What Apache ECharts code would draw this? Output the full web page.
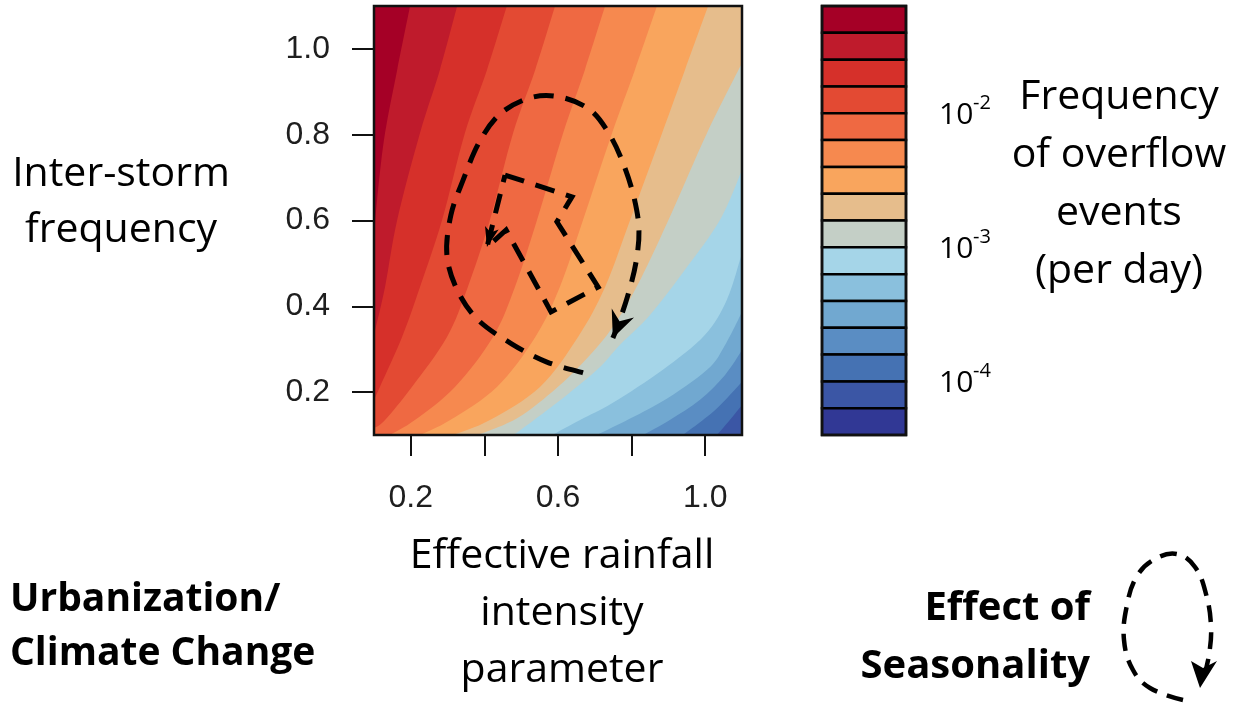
<!DOCTYPE html>
<html>
<head>
<meta charset="utf-8">
<script src="https://cdn.jsdelivr.net/npm/echarts@6.0.0/dist/echarts.min.js"></script>
<style>
html,body{margin:0;padding:0;background:#ffffff;}
#chart{width:1237px;height:715px;}
</style>
</head>
<body>
<div id="chart"></div>
<script>
// ---------- axes ----------
const X_MIN = 0.1, X_MAX = 1.1, Y_MIN = 0.1, Y_MAX = 1.1;
const xTickValues = [0.2, 0.4, 0.6, 0.8, 1.0];
const xLabelValues = [0.2, 0.6, 1.0];
const yTickValues = [0.2, 0.4, 0.6, 0.8, 1.0];

// ---------- colour bar: log10(frequency of overflow events per day) ----------
const cbLevels = [-1.2, -1.4, -1.6, -1.8, -2.0, -2.2, -2.4, -2.6, -2.8, -3.0, -3.2, -3.4, -3.6, -3.8, -4.0, -4.2, -4.4];
const cbTickValues = [-1.5, -2, -2.5, -3, -3.5, -4];
const cbLabelValues = [-2, -3, -4];
const bandColors = ['#a50026', '#bf1b2c', '#d6302a', '#e34a33', '#ef6942', '#f6894f', '#f9a55d', '#e6bd8c',
                    '#c4cfc6', '#a5d5e8', '#8ac0dd', '#71a8d0', '#5a8dc3', '#4572b3', '#3b56a5', '#313895'];

// ---------- contour lines (x = rainfall intensity, y = inter-storm frequency) ----------
const contourLevels = [-1.4, -1.6, -1.8, -2.0, -2.2, -2.4, -2.6, -2.8, -3.0, -3.2, -3.4, -3.6, -3.8, -4.0];
const line_m1_4 = [[0.198,1.1],[0.163,0.951],[0.130,0.804],[0.111,0.671],[0.1,0.566]];
const line_m1_6 = [[0.326,1.1],[0.279,0.951],[0.225,0.804],[0.163,0.601],[0.130,0.445],[0.1,0.333]];
const line_m1_8 = [[0.461,1.1],[0.407,0.951],[0.347,0.804],[0.285,0.601],[0.225,0.445],[0.176,0.328],[0.116,0.212],[0.1,0.182]];
const line_m2_0 = [[0.592,1.1],[0.538,0.951],[0.478,0.804],[0.415,0.601],[0.355,0.445],[0.298,0.328],[0.203,0.212],[0.130,0.135],[0.1,0.116]];
const line_m2_2 = [[0.728,1.1],[0.673,0.951],[0.614,0.804],[0.543,0.601],[0.483,0.445],[0.423,0.328],[0.320,0.212],[0.211,0.135],[0.143,0.1]];
const line_m2_4 = [[0.869,1.1],[0.809,0.951],[0.747,0.804],[0.668,0.601],[0.605,0.445],[0.538,0.328],[0.434,0.212],[0.307,0.135],[0.225,0.1]];
const line_m2_6 = [[1.008,1.1],[0.945,0.951],[0.883,0.804],[0.796,0.601],[0.728,0.445],[0.654,0.328],[0.551,0.212],[0.415,0.135],[0.315,0.1]];
const line_m2_8 = [[1.1,0.967],[1.005,0.804],[0.910,0.620],[0.823,0.461],[0.752,0.356],[0.682,0.282],[0.597,0.210],[0.491,0.140],[0.383,0.1]];
const line_m3_0 = [[1.1,0.718],[1.040,0.601],[0.945,0.485],[0.850,0.380],[0.768,0.310],[0.706,0.252],[0.597,0.175],[0.480,0.1]];
const line_m3_2 = [[1.1,0.524],[1.059,0.415],[0.999,0.333],[0.885,0.252],[0.749,0.175],[0.660,0.135],[0.584,0.1]];
const line_m3_4 = [[1.1,0.387],[1.054,0.310],[1.005,0.252],[0.877,0.175],[0.706,0.1]];
const line_m3_6 = [[1.1,0.298],[1.054,0.240],[0.986,0.182],[0.904,0.135],[0.831,0.1]];
const line_m3_8 = [[1.1,0.224],[1.027,0.158],[0.940,0.1]];
const line_m4_0 = [[1.1,0.170],[1.067,0.135],[1.032,0.1]];
const contourLines = [line_m1_4, line_m1_6, line_m1_8, line_m2_0, line_m2_2, line_m2_4, line_m2_6,
                      line_m2_8, line_m3_0, line_m3_2, line_m3_4, line_m3_6, line_m3_8, line_m4_0];

// ---------- annotation paths (in data units) ----------
const seasonLoop = [[0.668,0.245],[0.570,0.270],[0.475,0.312],[0.383,0.368],[0.326,0.438],[0.298,0.520],
                    [0.309,0.613],[0.342,0.694],[0.385,0.781],[0.442,0.848],[0.524,0.886],[0.605,0.888],
                    [0.687,0.858],[0.741,0.799],[0.779,0.729],[0.807,0.652],[0.820,0.578],[0.812,0.503],
                    [0.790,0.426],[0.763,0.356],[0.749,0.326]];
const climateArrow = [[0.456,0.706],[0.638,0.655],[0.597,0.597],[0.709,0.445],[0.581,0.387],[0.459,0.578],[0.407,0.538],[0.456,0.706]];

// ---------- helpers ----------
function bandIndexAbove(level) { return Math.round((cbLevels[0] - level) / 0.2) - 1; }
function fmt(p) { return p[0].toFixed(2) + ',' + p[1].toFixed(2); }
function smoothPathData(P) {
  let d = 'M' + fmt(P[0]);
  for (let i = 0; i < P.length - 1; i++) {
    const p0 = P[i - 1] || P[i], p1 = P[i], p2 = P[i + 1], p3 = P[i + 2] || P[i + 1];
    const c1 = [p1[0] + (p2[0] - p0[0]) / 6, p1[1] + (p2[1] - p0[1]) / 6];
    const c2 = [p2[0] - (p3[0] - p1[0]) / 6, p2[1] - (p3[1] - p1[1]) / 6];
    d += ' C' + fmt(c1) + ' ' + fmt(c2) + ' ' + fmt(p2);
  }
  return d;
}
function arrowHeadPoints(tip, from, len, half, notch) {
  let dx = tip[0] - from[0], dy = tip[1] - from[1];
  const L = Math.hypot(dx, dy); dx /= L; dy /= L;
  const bx = tip[0] - dx * len, by = tip[1] - dy * len;
  const nx = -dy, ny = dx;
  return [tip, [bx + nx * half, by + ny * half], [tip[0] - dx * (len - notch), tip[1] - dy * (len - notch)], [bx - nx * half, by - ny * half]];
}

const EPS = 1e-6;
const fillOrder = [-1];
for (let i = contourLines.length - 1; i >= 0; i--) fillOrder.push(i);

function renderFill(params, api) {
  const k = fillOrder[params.dataIndex];
  if (k < 0) {
    const a = api.coord([X_MIN, Y_MAX]), b = api.coord([X_MAX, Y_MIN]);
    return { type: 'rect', shape: { x: a[0], y: a[1], width: b[0] - a[0], height: b[1] - a[1] },
             style: { fill: bandColors[bandIndexAbove(contourLevels[contourLevels.length - 1]) + 1] } };
  }
  const pts = contourLines[k];
  let d = smoothPathData(pts.map(p => api.coord(p)));
  const first = pts[0], last = pts[pts.length - 1];
  const extra = [];
  if (last[1] <= Y_MIN + EPS) { extra.push([X_MIN, Y_MIN]); extra.push([X_MIN, Y_MAX]); }
  else if (last[0] <= X_MIN + EPS) { extra.push([X_MIN, Y_MAX]); }
  if (first[0] >= X_MAX - EPS) { extra.push([X_MAX, Y_MAX]); }
  extra.forEach(e => { d += ' L' + fmt(api.coord(e)); });
  d += ' Z';
  return { type: 'path', shape: { pathData: d }, style: { fill: bandColors[bandIndexAbove(contourLevels[k])] } };
}

const dashStyle = { stroke: '#000', lineWidth: 5, lineDash: [20, 12], fill: 'none', lineCap: 'butt', lineJoin: 'miter' };
function renderAnnotations(params, api) {
  const loopPx = seasonLoop.map(p => api.coord(p));
  const arrowPx = climateArrow.map(p => api.coord(p));
  let d2 = 'M' + fmt(arrowPx[0]);
  for (let i = 1; i < arrowPx.length; i++) d2 += ' L' + fmt(arrowPx[i]);
  const n = loopPx.length;
  const wing = arrowPx[6], tipA = arrowPx[0];
  return { type: 'group', children: [
    { type: 'path', shape: { pathData: smoothPathData(loopPx) }, style: Object.assign({}, dashStyle) },
    { type: 'polygon', shape: { points: arrowHeadPoints(loopPx[n - 1], loopPx[n - 2], 27, 12, 9) }, style: { fill: '#000' } },
    { type: 'path', shape: { pathData: d2 }, style: Object.assign({}, dashStyle) },
    { type: 'polygon', shape: { points: arrowHeadPoints(wing, tipA, 20, 7, 5) }, style: { fill: '#000' } }
  ] };
}

const cbBands = [];
for (let i = 0; i < cbLevels.length - 1; i++) cbBands.push([cbLevels[i + 1], cbLevels[i], i]);
function renderColorbar(params, api) {
  const b = cbBands[params.dataIndex];
  const a = api.coord([0, b[1]]), c = api.coord([1, b[0]]);
  return { type: 'rect', shape: { x: a[0], y: a[1], width: c[0] - a[0], height: c[1] - a[1] },
           style: { fill: bandColors[b[2]], stroke: '#000', lineWidth: 2.5 } };
}
// colour-bar labels "10^k", placed at the axis value through the axis scale
function renderCbLabel(params, api) {
  const v = cbLabelValues[params.dataIndex];
  const p = api.coord([1, v]);
  const x0 = p[0] + 33;
  return { type: 'group', children: [
    { type: 'text', x: x0, y: p[1] + 2, style: { text: '10', fontFamily: 'Open Sans', fontSize: 30, fill: '#000', align: 'left', verticalAlign: 'middle' } },
    { type: 'text', x: x0 + 34, y: p[1] - 10, style: { text: String(v), fontFamily: 'Open Sans', fontSize: 20, fill: '#000', align: 'left', verticalAlign: 'middle' } }
  ] };
}

// legend loop (decorative symbol next to "Effect of Seasonality"), in page pixels
const legendLoopPx = [[1183,700],[1150,688],[1133,670],[1124,640],[1127,605],[1137,576],[1155,559],[1177,554],[1195,567],[1206,594],[1211,626],[1209,655],[1203,680]];

const chart = echarts.init(document.getElementById('chart'), null, { renderer: 'canvas' });
const tickFont = { fontFamily: 'Liberation Sans', fontSize: 32, color: '#1e1e1e' };
const option = {
  animation: false,
  backgroundColor: '#ffffff',
  grid: [
    { left: 374, top: 6, width: 368, height: 429, show: true, backgroundColor: 'transparent', borderColor: '#111', borderWidth: 2.5, z: 10 },
    { left: 822, top: 6, width: 84, height: 429, show: true, backgroundColor: 'transparent', borderColor: '#111', borderWidth: 2.5, z: 10 }
  ],
  xAxis: [
    { type: 'value', gridIndex: 0, min: X_MIN, max: X_MAX,
      axisLine: { show: false }, splitLine: { show: false },
      axisTick: { show: true, customValues: xTickValues, length: 21, lineStyle: { color: '#111', width: 2 } },
      axisLabel: Object.assign({ customValues: xLabelValues, margin: 47, formatter: v => v.toFixed(1) }, tickFont) },
    { type: 'value', gridIndex: 1, min: 0, max: 1, show: false }
  ],
  yAxis: [
    { type: 'value', gridIndex: 0, min: Y_MIN, max: Y_MAX,
      axisLine: { show: false }, splitLine: { show: false },
      axisTick: { show: true, customValues: yTickValues, length: 22, lineStyle: { color: '#111', width: 2 } },
      axisLabel: Object.assign({ customValues: yTickValues, margin: 44, formatter: v => v.toFixed(1) }, tickFont) },
    { type: 'value', gridIndex: 1, min: cbLevels[cbLevels.length - 1], max: cbLevels[0], position: 'right',
      axisLine: { show: false }, splitLine: { show: false },
      axisTick: { show: true, customValues: cbTickValues, length: 20, lineStyle: { color: '#111', width: 2 } },
      axisLabel: { show: false } }
  ],
  series: [
    { type: 'custom', name: 'contours', xAxisIndex: 0, yAxisIndex: 0, clip: true, silent: true,
      renderItem: renderFill, data: fillOrder.map((k, i) => [i]), z: 1 },
    { type: 'custom', name: 'annotations', xAxisIndex: 0, yAxisIndex: 0, silent: true, z: 3,
      renderItem: renderAnnotations, data: [[0]] },
    { type: 'custom', name: 'colorbar', xAxisIndex: 1, yAxisIndex: 1, silent: true, z: 2,
      renderItem: renderColorbar, data: cbBands.map((b, i) => [i]) },
    { type: 'custom', name: 'colorbarLabels', xAxisIndex: 1, yAxisIndex: 1, silent: true, z: 2,
      renderItem: renderCbLabel, data: cbLabelValues.map(v => [1, v]) }
  ],
  graphic: [
    { type: 'text', x: 121, y: 202, style: { text: 'Inter-storm\nfrequency', fontFamily: 'Open Sans', fontSize: 41, lineHeight: 56, fill: '#000', align: 'center', verticalAlign: 'middle' } },
    { type: 'text', x: 562, y: 613, style: { text: 'Effective rainfall\nintensity\nparameter', fontFamily: 'Open Sans', fontSize: 41, lineHeight: 57, fill: '#000', align: 'center', verticalAlign: 'middle' } },
    { type: 'text', x: 1119, y: 184, style: { text: 'Frequency\nof overflow\nevents\n(per day)', fontFamily: 'Open Sans', fontSize: 41, lineHeight: 58, fill: '#000', align: 'center', verticalAlign: 'middle' } },
    { type: 'text', x: 10, y: 627, style: { text: 'Urbanization/\nClimate Change', fontFamily: 'Open Sans', fontWeight: 'bold', fontSize: 39, lineHeight: 54, fill: '#000', align: 'left', verticalAlign: 'middle' } },
    { type: 'text', x: 1090, y: 638, style: { text: 'Effect of\nSeasonality', fontFamily: 'Open Sans', fontWeight: 'bold', fontSize: 40, lineHeight: 58, fill: '#000', align: 'right', verticalAlign: 'middle' } },
    { type: 'polyline', shape: { points: legendLoopPx, smooth: 0.4 }, style: { stroke: '#000', lineWidth: 4.5, lineDash: [17, 10], fill: null } },
    { type: 'polygon', shape: { points: [[1200,688],[1191,661],[1203,668],[1217,661]] }, style: { fill: '#000' } }
  ]
};
chart.setOption(option);
</script>
</body>
</html>
